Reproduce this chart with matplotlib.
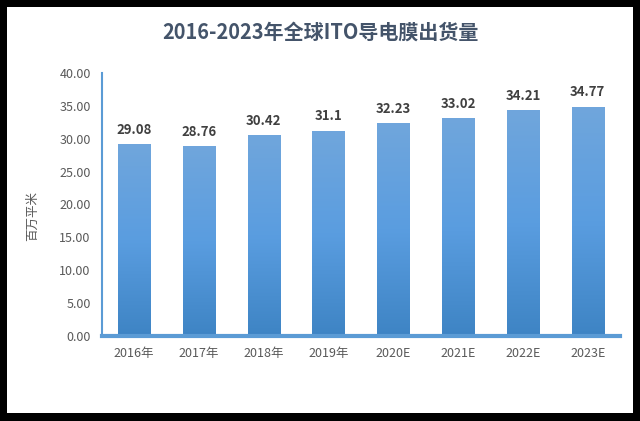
import numpy as np
import matplotlib
matplotlib.use("Agg")
import matplotlib.pyplot as plt
from matplotlib.patches import Rectangle
from matplotlib.colors import LinearSegmentedColormap

plt.rcParams['font.family'] = ['Noto Sans CJK SC', 'DejaVu Sans']

years = ["2016年", "2017年", "2018年", "2019年", "2020E", "2021E", "2022E", "2023E"]
shipments = [29.08, 28.76, 30.42, 31.1, 32.23, 33.02, 34.21, 34.77]
value_labels = ["29.08", "28.76", "30.42", "31.1", "32.23", "33.02", "34.21", "34.77"]

fig = plt.figure(figsize=(6.4, 4.21), dpi=100, facecolor="black")
# white panel inside the black frame
fig.patches.append(Rectangle((7 / 640, 8 / 421), 626 / 640, 406 / 421,
                             transform=fig.transFigure, facecolor="white",
                             edgecolor="none", zorder=-5))

ax = fig.add_axes([0.159, 0.202, 0.81, 0.625])
ax.set_facecolor("none")
ax.set_zorder(2)

x = np.arange(len(years))
bars = ax.bar(x, shipments, width=0.5, color="none", edgecolor="none")

# vertical gradient on each bar
cmap = LinearSegmentedColormap.from_list("g", ["#3e84c4", "#5a9de0", "#70a6dc"])
grad = np.linspace(0, 1, 256).reshape(-1, 1)
for b in bars:
    x0, w, h = b.get_x(), b.get_width(), b.get_height()
    ax.imshow(grad, cmap=cmap, origin="lower", aspect="auto",
              extent=(x0, x0 + w, 0, h), zorder=2)

for xi, v, lab in zip(x, shipments, value_labels):
    ax.text(xi, v + 1.2, lab, ha="center", va="bottom", fontsize=9.5,
            fontweight="bold", color="#404040")

ax.set_xlim(-0.5, len(years) - 0.5)
ax.set_ylim(0, 40)
ax.set_yticks(np.arange(0, 40.1, 5))
ax.set_yticklabels([f"{t:.2f}" for t in np.arange(0, 40.1, 5)])
ax.set_xticks(x)
ax.set_xticklabels(years)
ax.tick_params(axis="both", length=0, labelsize=9, colors="#595959")
ax.tick_params(axis="x", pad=8)
ax.tick_params(axis="y", pad=8)

for s in ["top", "right"]:
    ax.spines[s].set_visible(False)
ax.spines["left"].set_color("#5b9bd5")
ax.spines["left"].set_linewidth(1.5)
ax.spines["bottom"].set_color("#5b9bd5")
ax.spines["bottom"].set_linewidth(3)

fig.text(33 / 640, 1 - 216 / 421, "百万平米", rotation=90, ha="center", va="center",
         fontsize=9, color="#595959")

fig.text(0.5, 1 - 32 / 421, "2016-2023年全球ITO导电膜出货量", ha="center", va="center",
         fontsize=14.4, fontweight="bold", color="#44546a")

fig.savefig("out.png", dpi=100, facecolor="black")
